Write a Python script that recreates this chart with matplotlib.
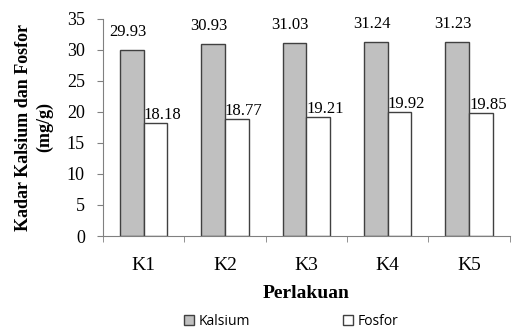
import numpy as np
import matplotlib.pyplot as plt

perlakuan = ["K1", "K2", "K3", "K4", "K5"]
kalsium = [29.93, 30.93, 31.03, 31.24, 31.23]
fosfor = [18.18, 18.77, 19.21, 19.92, 19.85]

serif = "Liberation Serif"

fig = plt.figure(figsize=(5.17, 3.31), dpi=100)
ax = fig.add_axes([0.199, 0.287, 0.787, 0.657])

x = np.arange(len(perlakuan))
w = 0.29
b1 = ax.bar(x - w / 2, kalsium, w, color="#c0c0c0", edgecolor="#404040",
            linewidth=1.0, label="Kalsium")
b2 = ax.bar(x + w / 2, fosfor, w, color="white", edgecolor="#404040",
            linewidth=1.0, label="Fosfor")

for rect, v in zip(b1, kalsium):
    ax.annotate(f"{v:.2f}", (rect.get_x() + rect.get_width() / 2, v),
                xytext=(-3, 7), textcoords="offset points", ha="center",
                va="bottom", fontsize=12, family=serif)
for rect, v in zip(b2, fosfor):
    ax.annotate(f"{v:.2f}", (rect.get_x() + rect.get_width() / 2, v),
                xytext=(5, 0), textcoords="offset points", ha="center",
                va="bottom", fontsize=12, family=serif)

ax.set_xlim(-0.5, len(perlakuan) - 0.5)
ax.set_ylim(0, 35)
ax.set_yticks(range(0, 36, 5))
ax.set_xticks(x)
ax.set_xticklabels(perlakuan, family=serif, fontsize=14)
ax.set_xticks(np.arange(-0.5, len(perlakuan), 1), minor=True)
ax.tick_params(axis="x", which="major", length=0, pad=15)
ax.tick_params(axis="x", which="minor", length=4, color="#808080")
ax.tick_params(axis="y", length=4, color="#808080", labelsize=13, pad=9)
for lab in ax.get_yticklabels():
    lab.set_family(serif)

for s in ["top", "right"]:
    ax.spines[s].set_visible(False)
for s in ["left", "bottom"]:
    ax.spines[s].set_color("#808080")

ax.set_ylabel("Kadar Kalsium dan Fosfor\n(mg/g)", family=serif,
              fontweight="bold", fontsize=13, labelpad=10, linespacing=1.25)
ax.set_xlabel("Perlakuan", family=serif, fontweight="bold", fontsize=14,
              labelpad=8)

fig.legend(loc="center", bbox_to_anchor=(0.563, 0.028), ncol=2,
           frameon=False, prop={"family": "Open Sans", "size": 10},
           handlelength=0.75, handleheight=0.75, handletextpad=0.3,
           columnspacing=6.7)

fig.savefig("out.png", dpi=100)
